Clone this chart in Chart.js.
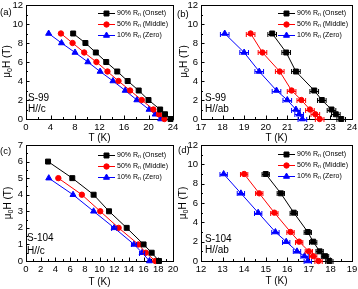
<!DOCTYPE html>
<html>
<head>
<meta charset="utf-8">
<script src="https://cdn.jsdelivr.net/npm/chart.js@4.4.0/dist/chart.umd.min.js"></script>
<style>
    html, body { margin: 0; padding: 0; background: #fff; }
    #wrap { position: relative; width: 358px; height: 289px; }
    #wrap canvas { position: absolute; left: 0; top: 0; }
</style>
</head>
<body>
<div id="wrap">
    <canvas id="panelA" width="358" height="289"></canvas>
    <canvas id="panelB" width="358" height="289"></canvas>
    <canvas id="panelC" width="358" height="289"></canvas>
    <canvas id="panelD" width="358" height="289"></canvas>
</div>
<script>
// S-99, H//c
const fieldA = [9, 8, 7, 6, 5, 4, 3, 2, 1, 0.5, 0];
const onsetA = [7.7, 9.7, 11.4, 13.1, 14.9, 16.6, 18.4, 20.0, 21.9, 22.7, 23.6];
const middleA = [5.7, 7.6, 9.5, 11.5, 13.3, 15.1, 17.0, 18.9, 20.8, 21.7, 22.6];
const zeroA = [3.7, 5.8, 8.0, 10.1, 12.1, 14.2, 16.2, 18.1, 20.1, 21.1, 22.0];

// S-99, H//ab
const fieldB = [9, 7, 5, 3, 2, 1, 0.5, 0];
const onsetB = [20.3, 20.95, 21.4, 22.25, 22.6, 23.05, 23.25, 23.5];
const middleB = [19.3, 19.85, 20.65, 21.2, 21.65, 22.05, 22.3, 22.5];
const zeroB = [18.1, 19.0, 19.7, 20.5, 21.0, 21.4, 21.55, 21.7];
const errB = [0.2, 0.2, 0.2, 0.2, 0.2, 0.2, 0.2, 0.2];

// S-104, H//c
const fieldOnsetC = [6, 5, 4, 3, 2, 1, 0.5, 0];
const fieldC = [5, 4, 3, 2, 1, 0.5, 0];
const onsetC = [3.0, 6.3, 9.2, 11.3, 13.7, 16.0, 17.1, 18.1];
const middleC = [4.4, 7.6, 10.1, 12.6, 15.3, 16.3, 17.6];
const zeroC = [3.1, 6.4, 9.2, 12.0, 14.7, 15.8, 16.8];
const errZeroC = [0, 0, 0, 0.35, 0.35, 0.35, 0];

// S-104, H//ab
const fieldD = [9, 7, 5, 3, 2, 1, 0.5, 0];
const onsetD = [15.0, 15.7, 16.3, 16.95, 17.2, 17.5, 17.75, 17.95];
const middleD = [14.0, 14.7, 15.4, 16.15, 16.55, 17.0, 17.2, 17.45];
const zeroD = [13.05, 13.85, 14.65, 15.45, 15.95, 16.45, 16.8, 16.95];
const errD = [0.17, 0.17, 0.17, 0.17, 0.17, 0.17, 0.17, 0.17];

const seriesNames = ["90% R", "50% R", "10% R"];
const seriesTags = [" (Onset)", " (Middle)", " (Zero)"];
const seriesColors = ["#000000", "#ff0000", "#0000ff"];
const seriesShapes = ["rect", "circle", "triangle"];
const seriesRadius = [3.5, 2.7, 3.5];

const FONT = "'Liberation Sans', Arial, Helvetica, sans-serif";
Chart.defaults.font.family = FONT;
Chart.defaults.color = "#000";

function drawMarker(ctx, i, x, y) {
    ctx.fillStyle = seriesColors[i];
    ctx.strokeStyle = seriesColors[i];
    ctx.lineWidth = 1;
    if (Chart.helpers && Chart.helpers.drawPoint) {
        Chart.helpers.drawPoint(ctx, { pointStyle: seriesShapes[i], radius: seriesRadius[i], borderWidth: 1, rotation: 0 }, x, y);
    } else {
        ctx.beginPath();
        ctx.arc(x, y, 3, 0, Math.PI * 2);
        ctx.fill();
    }
}

function drawTicks(ctx, scale, step, minorStep, horizontal, area) {
    const n = Math.round((scale.max - scale.min) / minorStep);
    ctx.beginPath();
    for (let k = 0; k <= n; k++) {
        const v = scale.min + k * minorStep;
        const r = (v - scale.min) / step;
        const len = Math.abs(r - Math.round(r)) < 1e-6 ? 3.5 : 2;
        const px = Math.round(scale.getPixelForValue(v)) + 0.5;
        if (horizontal) {
            ctx.moveTo(px, area.bottom);
            ctx.lineTo(px, area.bottom - len);
        } else {
            ctx.moveTo(area.left, px);
            ctx.lineTo(area.left + len, px);
        }
    }
    ctx.stroke();
}

function makePanel(p) {
    const canvas = document.getElementById(p.id);
    const L = p.area[0], T = p.area[1], R = p.area[2], B = p.area[3];

    const datasets = p.series.map(function (s, i) {
        return {
            label: seriesNames[i] + "n" + seriesTags[i],
            data: s.x.map(function (x, k) { return { x: x, y: s.y[k] }; }),
            borderColor: seriesColors[i],
            backgroundColor: seriesColors[i],
            pointBackgroundColor: seriesColors[i],
            borderWidth: 1,
            pointStyle: seriesShapes[i],
            pointRadius: seriesRadius[i],
            pointBorderWidth: 1,
            tension: 0,
            clip: false,
            xErr: s.err || null,
        };
    });

    const decor = {
        id: "decor" + p.id,
        beforeDatasetsDraw: function (chart) {
            const ctx = chart.ctx;
            const area = chart.chartArea;
            ctx.save();
            ctx.strokeStyle = "#000";
            ctx.lineWidth = 1;
            ctx.strokeRect(area.left + 0.5, area.top + 0.5, area.right - area.left, area.bottom - area.top);
            drawTicks(ctx, chart.scales.x, p.xStep, p.xMinor, true, area);
            drawTicks(ctx, chart.scales.y, p.yStep, p.yMinor, false, area);
            ctx.restore();
        },
        afterDatasetsDraw: function (chart) {
            const ctx = chart.ctx;
            const xs = chart.scales.x, ys = chart.scales.y;
            ctx.save();

            // horizontal error bars
            chart.data.datasets.forEach(function (ds) {
                if (!ds.xErr) return;
                ctx.strokeStyle = ds.borderColor;
                ctx.lineWidth = 1;
                ds.data.forEach(function (pt, k) {
                    const e = ds.xErr[k];
                    if (!e) return;
                    const x1 = xs.getPixelForValue(pt.x - e);
                    const x2 = xs.getPixelForValue(pt.x + e);
                    const y = Math.round(ys.getPixelForValue(pt.y)) + 0.5;
                    ctx.beginPath();
                    ctx.moveTo(x1, y); ctx.lineTo(x2, y);
                    ctx.moveTo(x1, y - 2.5); ctx.lineTo(x1, y + 2.5);
                    ctx.moveTo(x2, y - 2.5); ctx.lineTo(x2, y + 2.5);
                    ctx.stroke();
                });
            });

            // legend
            const lx = p.legend[0], tx = p.legend[1];
            for (let i = 0; i < 3; i++) {
                const ly = p.legend[2] + i * 11;
                ctx.strokeStyle = seriesColors[i];
                ctx.lineWidth = 1;
                ctx.beginPath();
                ctx.moveTo(lx, ly + 0.5); ctx.lineTo(tx - 2, ly + 0.5);
                ctx.stroke();
                drawMarker(ctx, i, (lx + tx - 2) / 2, ly + 0.5);
                ctx.fillStyle = "#000";
                ctx.textBaseline = "middle";
                ctx.textAlign = "left";
                ctx.font = "7px " + FONT;
                let x = tx;
                ctx.fillText(seriesNames[i], x, ly);
                x += ctx.measureText(seriesNames[i]).width;
                ctx.font = "5px " + FONT;
                ctx.fillText("n", x, ly + 2);
                x += ctx.measureText("n").width;
                ctx.font = "7px " + FONT;
                ctx.fillText(seriesTags[i], x, ly);
            }

            // panel letter and sample notes
            ctx.fillStyle = "#000";
            ctx.textBaseline = "middle";
            ctx.textAlign = "left";
            ctx.font = "9.5px " + FONT;
            ctx.fillText(p.label, p.labelPos[0], p.labelPos[1]);
            ctx.font = "10px " + FONT;
            p.notes.forEach(function (n) { ctx.fillText(n[0], n[1], n[2]); });

            // y title  μ0H (T)
            ctx.translate(p.yTitleX, (T + B) / 2);
            ctx.rotate(-Math.PI / 2);
            ctx.font = "10px " + FONT;
            const w1 = ctx.measureText("\u03bc").width;
            const w3 = ctx.measureText("H (T)").width;
            ctx.font = "7px " + FONT;
            const w2 = ctx.measureText("0").width;
            let x = -(w1 + w2 + w3) / 2;
            ctx.font = "10px " + FONT;
            ctx.fillText("\u03bc", x, 0);
            x += w1;
            ctx.font = "7px " + FONT;
            ctx.fillText("0", x, 3);
            x += w2;
            ctx.font = "10px " + FONT;
            ctx.fillText("H (T)", x, 0);
            ctx.restore();
        },
    };

    return new Chart(canvas, {
        type: "line",
        data: { datasets: datasets },
        options: {
            responsive: false,
            animation: false,
            events: [],
            layout: { padding: { left: L - p.yw, top: T, right: 358 - R, bottom: 289 - B - p.xh } },
            plugins: { legend: { display: false }, tooltip: { enabled: false } },
            scales: {
                x: {
                    type: "linear",
                    min: p.xMin, max: p.xMax,
                    grid: { display: false, drawTicks: false },
                    border: { display: false },
                    ticks: { stepSize: p.xStep, autoSkip: false, maxRotation: 0, padding: 3, font: { size: 9.5 }, color: "#000" },
                    title: { display: true, text: "T (K)", font: { size: 10 }, color: "#000", padding: { top: 0, bottom: p.xTitlePad } },
                    afterFit: function (scale) {
                        scale.height = p.xh;
                        scale.paddingLeft = 0;
                        scale.paddingRight = 0;
                    },
                },
                y: {
                    type: "linear",
                    min: p.yMin, max: p.yMax,
                    grid: { display: false, drawTicks: false },
                    border: { display: false },
                    ticks: { stepSize: p.yStep, autoSkip: false, padding: 3, font: { size: 9.5 }, color: "#000" },
                    afterFit: function (scale) {
                        scale.width = p.yw;
                        scale.paddingTop = 0;
                        scale.paddingBottom = 0;
                    },
                },
            },
        },
        plugins: [decor],
    });
}

makePanel({
    id: "panelA", label: "(a)", labelPos: [0, 12],
    area: [26, 4, 173, 119], yw: 26, xh: 25, xTitlePad: 0, yTitleX: 7.5,
    xMin: 0, xMax: 24, xStep: 4, xMinor: 2, yMin: 0, yMax: 12, yStep: 2, yMinor: 1,
    legend: [98, 117, 13],
    notes: [["S-99", 28, 98], ["H//c", 28, 109]],
    series: [
        { x: onsetA, y: fieldA },
        { x: middleA, y: fieldA },
        { x: zeroA, y: fieldA },
    ],
});

makePanel({
    id: "panelB", label: "(b)", labelPos: [177, 14],
    area: [201, 4, 352, 119], yw: 24, xh: 25, xTitlePad: 0, yTitleX: 184,
    xMin: 17, xMax: 24, xStep: 1, xMinor: 0.5, yMin: 0, yMax: 12, yStep: 2, yMinor: 1,
    legend: [278, 297, 13],
    notes: [["S-99", 205, 98], ["H//ab", 205, 109]],
    series: [
        { x: onsetB, y: fieldB, err: errB },
        { x: middleB, y: fieldB, err: errB },
        { x: zeroB, y: fieldB, err: errB },
    ],
});

makePanel({
    id: "panelC", label: "(c)", labelPos: [0, 151],
    area: [26, 145, 173, 261], yw: 26, xh: 27, xTitlePad: 0, yTitleX: 8,
    xMin: 0, xMax: 20, xStep: 2, xMinor: 1, yMin: 0, yMax: 7, yStep: 1, yMinor: 0.5,
    legend: [98, 117, 155],
    notes: [["S-104", 27, 238], ["H//c", 27, 251]],
    series: [
        { x: onsetC, y: fieldOnsetC },
        { x: middleC, y: fieldC },
        { x: zeroC, y: fieldC, err: errZeroC },
    ],
});

makePanel({
    id: "panelD", label: "(d)", labelPos: [178, 150],
    area: [201, 145, 352, 261], yw: 25, xh: 26, xTitlePad: 0, yTitleX: 183,
    xMin: 12, xMax: 19, xStep: 1, xMinor: 0.5, yMin: 0, yMax: 12, yStep: 2, yMinor: 1,
    legend: [278, 297, 154],
    notes: [["S-104", 205, 239], ["H//ab", 205, 250]],
    series: [
        { x: onsetD, y: fieldD, err: errD },
        { x: middleD, y: fieldD, err: errD },
        { x: zeroD, y: fieldD, err: errD },
    ],
});
</script>
</body>
</html>
